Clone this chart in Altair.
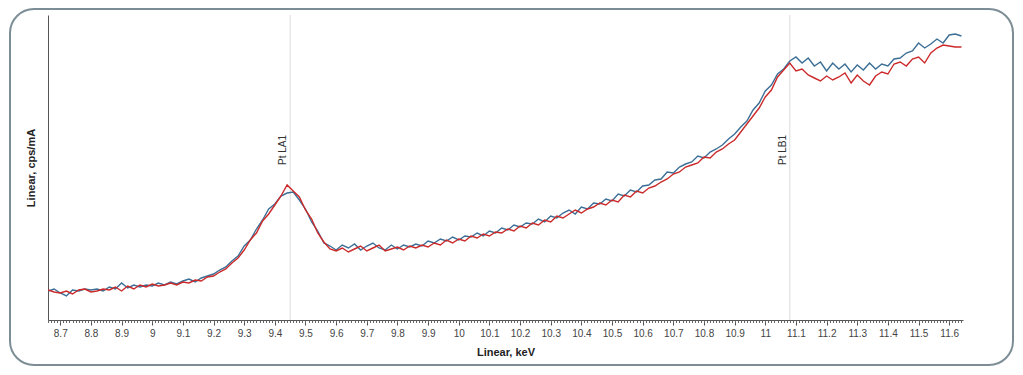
import altair as alt
import pandas as pd

energy_start = 8.66
energy_step = 0.02

blue_counts = [
    29, 31, 27, 24, 30, 29, 31, 30, 31, 29,
    33, 31, 37, 32, 35, 33, 35, 34, 37, 35,
    38, 36, 39, 41, 38, 42, 44, 46, 50, 53,
    59, 64, 74, 80, 91, 100, 111, 116, 124, 127,
    128, 120, 111, 98, 89, 77, 74, 70, 75, 72,
    76, 70, 74, 77, 72, 70, 75, 71, 75, 73,
    76, 74, 79, 77, 81, 79, 83, 80, 84, 83,
    87, 84, 89, 87, 92, 90, 95, 93, 97, 96,
    101, 98, 104, 102, 107, 110, 106, 113, 111, 117,
    116, 121, 119, 126, 124, 130, 128, 134, 135, 140,
    141, 148, 147, 153, 156, 158, 164, 162, 168, 171,
    175, 181, 186, 193, 199, 210, 217, 229, 235, 246,
    251, 259, 263, 257, 262, 254, 258, 249, 257, 251,
    256, 248, 255, 250, 257, 251, 256, 254, 261, 262,
    267, 269, 277, 272, 276, 281, 277, 285, 286, 284,
]

red_counts = [
    30, 28, 27, 29, 26, 30, 31, 28, 29, 31,
    30, 33, 29, 34, 31, 35, 33, 36, 34, 35,
    37, 35, 38, 37, 40, 39, 43, 44, 48, 51,
    57, 62, 70, 80, 87, 99, 106, 115, 124, 135,
    129, 123, 110, 101, 87, 78, 71, 69, 72, 68,
    71, 74, 69, 72, 75, 69, 71, 73, 70, 74,
    72, 75, 73, 77, 75, 80, 77, 81, 79, 84,
    82, 86, 84, 88, 87, 91, 89, 94, 92, 97,
    95, 100, 98, 104, 102, 106, 110, 107, 111, 113,
    117, 115, 120, 118, 125, 123, 129, 127, 132, 134,
    138, 141, 146, 148, 153, 155, 157, 163, 162, 168,
    171, 176, 180, 188, 196, 204, 212, 223, 230, 243,
    250, 257, 249, 251, 245, 242, 239, 244, 240, 243,
    247, 237, 245, 239, 235, 244, 248, 246, 256, 258,
    254, 261, 263, 257, 267, 272, 275, 274, 273, 273,
]

marker_names = ["Pt LA1", "Pt LB1"]
marker_energies = [9.45, 11.08]
marker_label_level = 170

major_ticks = [round(8.7 + 0.1 * i, 2) for i in range(30)]
minor_ticks = [round(8.66 + 0.01 * i, 2) for i in range(299)]

energies = [round(energy_start + energy_step * i, 2) for i in range(len(blue_counts))]
df = pd.DataFrame({
    "energy": energies * 2,
    "counts": blue_counts + red_counts,
    "series": ["blue"] * len(blue_counts) + ["red"] * len(red_counts),
})
markers = pd.DataFrame({"name": marker_names, "energy": marker_energies,
                        "level": [marker_label_level] * len(marker_names)})

W, H = 915, 305
xdom = [8.66, 11.645]
ydom = [0, 305]

xscale = alt.Scale(domain=xdom, nice=False, zero=False)
yscale = alt.Scale(domain=ydom, nice=False, zero=False)

y_axis = alt.Axis(title="Linear, cps/mA", labels=False, ticks=False,
                  grid=False, domainColor="#555555", domainWidth=1,
                  titleFont="Liberation Sans", titleFontSize=11,
                  titleFontWeight="bold", titleColor="#222222",
                  titlePadding=12)

frame = alt.Chart(pd.DataFrame({"a": [0]})).mark_rect(
    fill=None, stroke="#7d8d96", strokeWidth=2, cornerRadius=24, clip=False
).encode(x=alt.value(-38), x2=alt.value(965), y=alt.value(-6), y2=alt.value(350))

rules = alt.Chart(markers).mark_rule(color="#dcdcdc", strokeWidth=1).encode(
    x=alt.X("energy:Q", scale=xscale, axis=None)
)

labels = alt.Chart(markers).mark_text(
    angle=270, align="center", baseline="bottom", dy=-2, fontSize=10,
    color="#333333", font="Liberation Sans"
).encode(
    x=alt.X("energy:Q", scale=xscale, axis=None),
    y=alt.Y("level:Q", scale=yscale, axis=y_axis),
    text="name:N",
)

lines = alt.Chart(df).mark_line(strokeWidth=1.4, clip=True).encode(
    x=alt.X("energy:Q", scale=xscale,
            axis=alt.Axis(values=major_ticks, format=".1~f", title="Linear, keV",
                          grid=False, tickSize=5, tickColor="#555555",
                          domainColor="#555555", labelColor="#444444",
                          labelFontSize=10, labelFont="Liberation Sans",
                          labelPadding=3, titleFont="Liberation Sans",
                          titleFontSize=11, titleFontWeight="bold",
                          titleColor="#222222", titlePadding=8)),
    y=alt.Y("counts:Q", scale=yscale, axis=y_axis),
    color=alt.Color("series:N",
                    scale=alt.Scale(domain=["red", "blue"], range=["#cc2a2a", "#3c6f96"]),
                    legend=None),
    order=alt.Order("series:N"),
)

minor = alt.Chart(pd.DataFrame({"energy": minor_ticks})).mark_point(opacity=0).encode(
    x=alt.X("energy:Q", scale=xscale,
            axis=alt.Axis(values=minor_ticks, labels=False, title=None, grid=False,
                          tickSize=2.5, tickColor="#666666", domain=False, orient="bottom")),
)

chart = alt.layer(frame, rules, labels, lines, minor).resolve_axis(x="independent").properties(
    width=W, height=H,
    autosize=alt.AutoSizeParams(type="none"),
    padding={"left": 40, "top": 7, "right": 52, "bottom": 47},
    background="white",
).configure_view(stroke=None)

chart.save("out.html", embed_options={"renderer": "svg", "actions": False})
